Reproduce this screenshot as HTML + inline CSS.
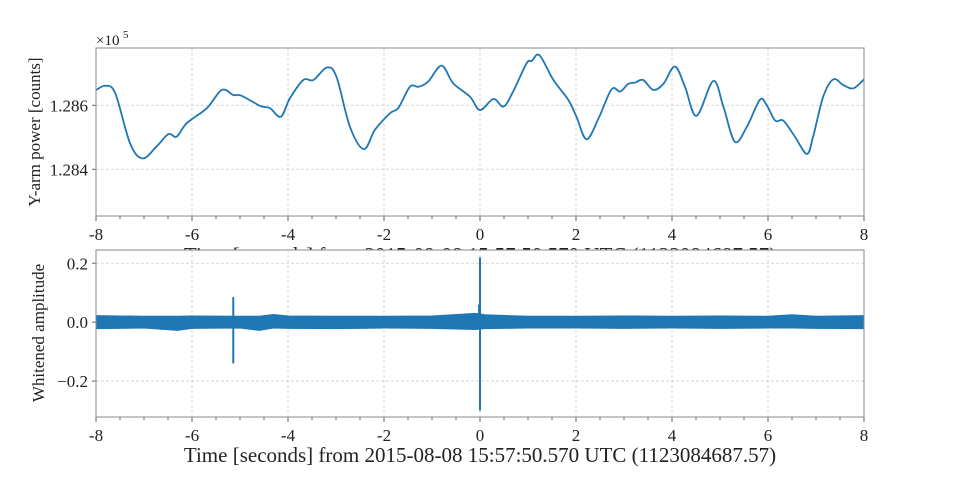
<!DOCTYPE html>
<html><head><meta charset="utf-8"><style>
html,body{margin:0;padding:0;background:#fff;width:960px;height:480px;overflow:hidden}
svg text{font-family:"Liberation Serif",serif;fill:#222}
</style></head><body>
<svg id="chart" width="960" height="480" xmlns="http://www.w3.org/2000/svg"></svg>
<script>
// ---- top panel data ----
const powerTimes = [-7.99,-7.81,-7.6,-7.29,-7.03,-6.74,-6.49,-6.32,-6.11,-5.69,-5.38,-5.14,-4.97,-4.58,-4.375,-4.15,-3.96,-3.68,-3.47,-3.19,-2.99,-2.71,-2.42,-2.19,-1.875,-1.70,-1.46,-1.28,-1.08,-0.80,-0.56,-0.21,0,0.28,0.49,0.69,0.97,1.08,1.24,1.53,1.84,2.01,2.22,2.47,2.74,2.92,3.09,3.23,3.40,3.61,3.82,4.06,4.27,4.51,4.86,5.07,5.31,5.56,5.83,5.97,6.15,6.32,6.56,6.81,6.94,7.15,7.36,7.57,7.78,8.0];
const powerValues = [1.28648,1.28661,1.28638,1.28481,1.28434,1.28471,1.28510,1.28502,1.28544,1.28591,1.28648,1.28632,1.28630,1.28598,1.28591,1.28564,1.28622,1.28679,1.28679,1.28718,1.28689,1.28533,1.28463,1.28523,1.28575,1.28592,1.28658,1.28658,1.28674,1.28724,1.28669,1.28627,1.28585,1.28620,1.28596,1.28643,1.28731,1.28739,1.28756,1.28679,1.28617,1.28564,1.28494,1.28559,1.28650,1.28643,1.28667,1.28671,1.28679,1.28648,1.28667,1.28721,1.28658,1.28567,1.28676,1.28596,1.28486,1.28533,1.28617,1.28601,1.28552,1.28552,1.28502,1.28448,1.28502,1.28627,1.28681,1.28663,1.28653,1.28681];
const topYTicks = [1.284, 1.286];
const topYTickLabels = ["1.284", "1.286"];
// ---- bottom panel data ----
const noiseTimes = [-8,-7,-6.3,-6,-5,-4.6,-4.3,-4,-3,-2,-1,-0.1,0.1,1,2,3,4,5,6,6.5,7,8];
const noiseUpper = [0.022,0.02,0.02,0.021,0.02,0.02,0.026,0.021,0.02,0.02,0.021,0.03,0.025,0.02,0.02,0.021,0.02,0.021,0.02,0.025,0.02,0.022];
const noiseLower = [-0.022,-0.02,-0.028,-0.021,-0.02,-0.028,-0.02,-0.021,-0.022,-0.02,-0.021,-0.025,-0.022,-0.02,-0.02,-0.021,-0.02,-0.021,-0.02,-0.02,-0.021,-0.022];
const spikeTimes = [-5.14, -0.02, 0.0];
const spikeMax = [0.085, 0.06, 0.22];
const spikeMin = [-0.14, -0.02, -0.30];
const botYTicks = [-0.2, 0.0, 0.2];
const botYTickLabels = ["\u22120.2", "0.0", "0.2"];
const xTicks = [-8,-6,-4,-2,0,2,4,6,8];
const xTickLabels = ["-8","-6","-4","-2","0","2","4","6","8"];

const NS = "http://www.w3.org/2000/svg";
const svg = document.getElementById("chart");
function el(tag, attrs, parent){const e=document.createElementNS(NS,tag);for(const k in attrs)e.setAttribute(k,attrs[k]);(parent||svg).appendChild(e);return e;}

const X0=96, X1=864;
const xs = t => X0 + (t+8)/16*(X1-X0);
const topP = {y0:48, y1:216, vmin:1.28254, vmax:1.28779};
const botP = {y0:250, y1:417, vmin:-0.322, vmax:0.245};
const ysTop = v => topP.y1 - (v-topP.vmin)/(topP.vmax-topP.vmin)*(topP.y1-topP.y0);
const ysBot = v => botP.y1 - (v-botP.vmin)/(botP.vmax-botP.vmin)*(botP.y1-botP.y0);

function panel(p, ys, yTicks, yLabels, name){
  const g = el("g",{});
  
  
  el("rect",{x:X0,y:p.y0,width:X1-X0,height:p.y1-p.y0,fill:"#fff"},g);
  xTicks.forEach(t=>{ const l=el("line",{x1:xs(t),x2:xs(t),y1:p.y0,y2:p.y1,stroke:"#ccc","stroke-dasharray":"3,2","stroke-width":0.8},g);
     });
  yTicks.forEach((v,i)=>{ const y=ys(v);
    const l=el("line",{x1:X0,x2:X1,y1:y,y2:y,stroke:"#ccc","stroke-dasharray":"3,2","stroke-width":0.8},g);
     
    el("line",{x1:X0-4,x2:X0,y1:y,y2:y,stroke:"#666"},g);
    const tx=el("text",{x:X0-8,y:y+6,"text-anchor":"end","font-size":17},g); tx.textContent=yLabels[i];
     
  });
  for(let t=-8;t<=8.001;t+=0.5){ const major=Math.abs(t-Math.round(t/2)*2)<1e-6;
    el("line",{x1:xs(t),x2:xs(t),y1:p.y1,y2:p.y1+(major?5:3),stroke:"#666"},g);}
  xTicks.forEach((t,i)=>{ const tx=el("text",{x:xs(t),y:p.y1+24,"text-anchor":"middle","font-size":17},g); tx.textContent=xTickLabels[i];
     });
  return g;
}

const tl = el("text",{x:480,y:262,"text-anchor":"middle","font-size":21}); tl.textContent="Time [seconds] from 2015-08-08 15:57:50.570 UTC (1123084687.57)";
 

const gt = panel(topP, ysTop, topYTicks, topYTickLabels, "top-panel");
const pts = powerTimes.map((t,i)=>[xs(t), ysTop(powerValues[i])]);
let d = "M"+pts[0][0]+","+pts[0][1];
for(let i=0;i<pts.length-1;i++){
  const p0=pts[Math.max(0,i-1)],p1=pts[i],p2=pts[i+1],p3=pts[Math.min(pts.length-1,i+2)];
  const c1=[p1[0]+(p2[0]-p0[0])/6,p1[1]+(p2[1]-p0[1])/6], c2=[p2[0]-(p3[0]-p1[0])/6,p2[1]-(p3[1]-p1[1])/6];
  d+=" C"+c1[0]+","+c1[1]+" "+c2[0]+","+c2[1]+" "+p2[0]+","+p2[1];
}
const cl = el("path",{d:d,fill:"none",stroke:"#1f77b4","stroke-width":1.8},gt);
 
el("rect",{x:X0,y:topP.y0,width:X1-X0,height:topP.y1-topP.y0,fill:"none",stroke:"#888"},gt);
const mult = el("text",{x:96,y:45,"font-size":15},gt); mult.textContent="\u00d710";
 
const sup = el("text",{x:123,y:38,"font-size":11},gt); sup.textContent="5";
const yt1 = el("text",{transform:"translate(40,132) rotate(-90)","text-anchor":"middle","font-size":17},gt); yt1.textContent="Y-arm power [counts]";
 

const gb = panel(botP, ysBot, botYTicks, botYTickLabels, "bottom-panel");
let nd = "M"+noiseTimes.map((t,i)=>xs(t)+","+ysBot(noiseUpper[i])).join(" L");
for(let i=noiseTimes.length-1;i>=0;i--) nd+=" L"+xs(noiseTimes[i])+","+ysBot(noiseLower[i]);
const band = el("path",{d:nd+" Z",fill:"#1f77b4",stroke:"#1f77b4","stroke-width":1},gb);
 
spikeTimes.forEach((t,i)=>{ const s=el("line",{x1:xs(t),x2:xs(t),y1:ysBot(spikeMax[i]),y2:ysBot(spikeMin[i]),stroke:"#1f77b4","stroke-width":2},gb);
   });
el("rect",{x:X0,y:botP.y0,width:X1-X0,height:botP.y1-botP.y0,fill:"none",stroke:"#888"},gb);
const yt2 = el("text",{transform:"translate(44,333) rotate(-90)","text-anchor":"middle","font-size":17},gb); yt2.textContent="Whitened amplitude";
 
const bl = el("text",{x:480,y:462,"text-anchor":"middle","font-size":21}); bl.textContent="Time [seconds] from 2015-08-08 15:57:50.570 UTC (1123084687.57)";
 
</script>
</body></html>
